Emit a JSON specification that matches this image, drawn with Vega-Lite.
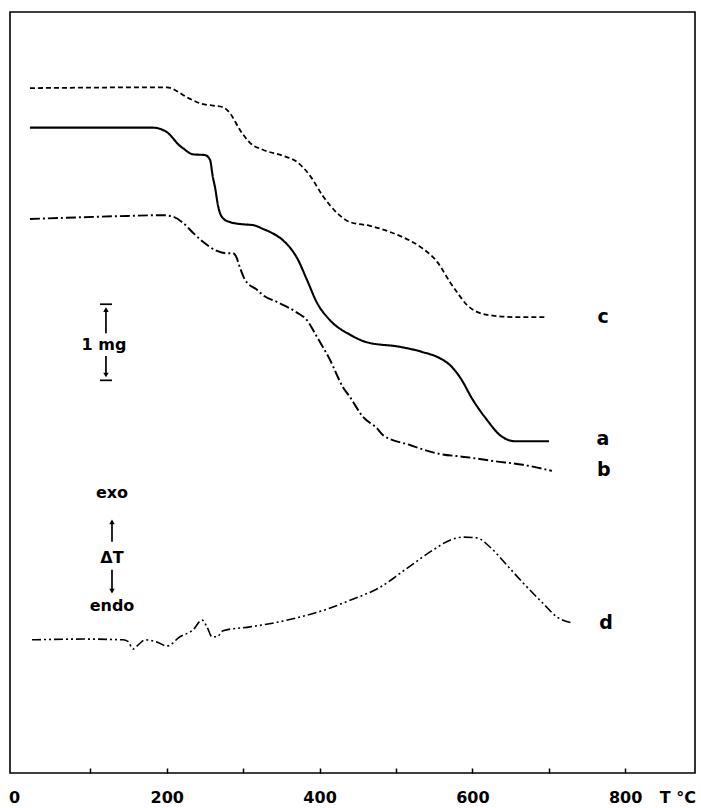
{
  "$schema": "https://vega.github.io/schema/vega-lite/v6.json",
  "width": 685,
  "height": 761,
  "autosize": {"type": "none"},
  "padding": {"left": 10, "top": 12, "right": 6, "bottom": 35},
  "background": "white",
  "config": {
    "view": {"stroke": "#000", "strokeWidth": 1.6},
    "font": "DejaVu Sans"
  },
  "datasets": {
    "curves": [
      {"series": "c", "T": 20.9, "y": 9.00},
      {"series": "c", "T": 191.1, "y": 9.01},
      {"series": "c", "T": 200.3, "y": 9.01},
      {"series": "c", "T": 208.1, "y": 8.99},
      {"series": "c", "T": 213.4, "y": 8.96},
      {"series": "c", "T": 226.4, "y": 8.88},
      {"series": "c", "T": 234.3, "y": 8.84},
      {"series": "c", "T": 243.5, "y": 8.80},
      {"series": "c", "T": 260.5, "y": 8.77},
      {"series": "c", "T": 273.6, "y": 8.75},
      {"series": "c", "T": 282.7, "y": 8.67},
      {"series": "c", "T": 295.8, "y": 8.45},
      {"series": "c", "T": 308.9, "y": 8.28},
      {"series": "c", "T": 325.9, "y": 8.19},
      {"series": "c", "T": 352.1, "y": 8.11},
      {"series": "c", "T": 370.4, "y": 8.03},
      {"series": "c", "T": 387.4, "y": 7.85},
      {"series": "c", "T": 404.5, "y": 7.58},
      {"series": "c", "T": 422.8, "y": 7.36},
      {"series": "c", "T": 439.8, "y": 7.24},
      {"series": "c", "T": 466.0, "y": 7.19},
      {"series": "c", "T": 492.1, "y": 7.11},
      {"series": "c", "T": 509.2, "y": 7.04},
      {"series": "c", "T": 535.3, "y": 6.89},
      {"series": "c", "T": 553.7, "y": 6.72},
      {"series": "c", "T": 570.7, "y": 6.45},
      {"series": "c", "T": 579.8, "y": 6.32},
      {"series": "c", "T": 592.9, "y": 6.15},
      {"series": "c", "T": 606.0, "y": 6.06},
      {"series": "c", "T": 627.0, "y": 6.01},
      {"series": "c", "T": 658.4, "y": 5.99},
      {"series": "c", "T": 697.6, "y": 5.99},

      {"series": "a", "T": 20.9, "y": 8.48},
      {"series": "a", "T": 181.9, "y": 8.48},
      {"series": "a", "T": 195.0, "y": 8.45},
      {"series": "a", "T": 200.3, "y": 8.42},
      {"series": "a", "T": 217.3, "y": 8.24},
      {"series": "a", "T": 221.2, "y": 8.21},
      {"series": "a", "T": 234.3, "y": 8.13},
      {"series": "a", "T": 250.0, "y": 8.12},
      {"series": "a", "T": 256.5, "y": 8.06},
      {"series": "a", "T": 260.5, "y": 7.82},
      {"series": "a", "T": 263.1, "y": 7.70},
      {"series": "a", "T": 267.0, "y": 7.46},
      {"series": "a", "T": 269.6, "y": 7.36},
      {"series": "a", "T": 273.6, "y": 7.29},
      {"series": "a", "T": 282.7, "y": 7.24},
      {"series": "a", "T": 299.7, "y": 7.21},
      {"series": "a", "T": 312.8, "y": 7.20},
      {"series": "a", "T": 325.9, "y": 7.15},
      {"series": "a", "T": 335.1, "y": 7.11},
      {"series": "a", "T": 352.1, "y": 7.00},
      {"series": "a", "T": 363.9, "y": 6.87},
      {"series": "a", "T": 370.4, "y": 6.77},
      {"series": "a", "T": 383.5, "y": 6.48},
      {"series": "a", "T": 396.6, "y": 6.18},
      {"series": "a", "T": 413.6, "y": 5.95},
      {"series": "a", "T": 439.8, "y": 5.76},
      {"series": "a", "T": 462.0, "y": 5.66},
      {"series": "a", "T": 505.2, "y": 5.60},
      {"series": "a", "T": 535.3, "y": 5.53},
      {"series": "a", "T": 557.6, "y": 5.45},
      {"series": "a", "T": 570.7, "y": 5.36},
      {"series": "a", "T": 583.8, "y": 5.20},
      {"series": "a", "T": 600.8, "y": 4.90},
      {"series": "a", "T": 619.1, "y": 4.64},
      {"series": "a", "T": 636.1, "y": 4.44},
      {"series": "a", "T": 655.8, "y": 4.36},
      {"series": "a", "T": 700.3, "y": 4.36},

      {"series": "b", "T": 20.9, "y": 7.28},
      {"series": "b", "T": 147.9, "y": 7.32},
      {"series": "b", "T": 195.0, "y": 7.33},
      {"series": "b", "T": 208.1, "y": 7.31},
      {"series": "b", "T": 221.2, "y": 7.23},
      {"series": "b", "T": 234.3, "y": 7.10},
      {"series": "b", "T": 247.4, "y": 6.98},
      {"series": "b", "T": 265.7, "y": 6.86},
      {"series": "b", "T": 277.5, "y": 6.83},
      {"series": "b", "T": 286.6, "y": 6.83},
      {"series": "b", "T": 290.6, "y": 6.79},
      {"series": "b", "T": 295.8, "y": 6.64},
      {"series": "b", "T": 302.4, "y": 6.48},
      {"series": "b", "T": 318.0, "y": 6.35},
      {"series": "b", "T": 325.9, "y": 6.28},
      {"series": "b", "T": 344.2, "y": 6.19},
      {"series": "b", "T": 370.4, "y": 6.05},
      {"series": "b", "T": 383.5, "y": 5.95},
      {"series": "b", "T": 396.6, "y": 5.73},
      {"series": "b", "T": 413.6, "y": 5.43},
      {"series": "b", "T": 430.6, "y": 5.07},
      {"series": "b", "T": 439.8, "y": 4.94},
      {"series": "b", "T": 456.8, "y": 4.68},
      {"series": "b", "T": 475.1, "y": 4.53},
      {"series": "b", "T": 483.0, "y": 4.44},
      {"series": "b", "T": 518.3, "y": 4.31},
      {"series": "b", "T": 553.7, "y": 4.20},
      {"series": "b", "T": 592.9, "y": 4.15},
      {"series": "b", "T": 627.0, "y": 4.10},
      {"series": "b", "T": 666.2, "y": 4.05},
      {"series": "b", "T": 704.2, "y": 3.97},

      {"series": "d", "T": 23.6, "y": 1.75},
      {"series": "d", "T": 90.3, "y": 1.76},
      {"series": "d", "T": 142.7, "y": 1.75},
      {"series": "d", "T": 149.2, "y": 1.73},
      {"series": "d", "T": 155.8, "y": 1.63},
      {"series": "d", "T": 162.3, "y": 1.68},
      {"series": "d", "T": 171.5, "y": 1.75},
      {"series": "d", "T": 187.2, "y": 1.72},
      {"series": "d", "T": 200.3, "y": 1.67},
      {"series": "d", "T": 217.3, "y": 1.79},
      {"series": "d", "T": 234.3, "y": 1.88},
      {"series": "d", "T": 246.1, "y": 2.01},
      {"series": "d", "T": 252.6, "y": 1.92},
      {"series": "d", "T": 259.2, "y": 1.79},
      {"series": "d", "T": 265.7, "y": 1.79},
      {"series": "d", "T": 273.6, "y": 1.87},
      {"series": "d", "T": 308.9, "y": 1.92},
      {"series": "d", "T": 344.2, "y": 1.98},
      {"series": "d", "T": 374.3, "y": 2.05},
      {"series": "d", "T": 417.5, "y": 2.18},
      {"series": "d", "T": 439.8, "y": 2.27},
      {"series": "d", "T": 479.1, "y": 2.44},
      {"series": "d", "T": 514.4, "y": 2.69},
      {"series": "d", "T": 548.4, "y": 2.93},
      {"series": "d", "T": 570.7, "y": 3.06},
      {"series": "d", "T": 587.7, "y": 3.10},
      {"series": "d", "T": 606.0, "y": 3.09},
      {"series": "d", "T": 623.0, "y": 2.97},
      {"series": "d", "T": 645.3, "y": 2.73},
      {"series": "d", "T": 666.2, "y": 2.50},
      {"series": "d", "T": 692.4, "y": 2.23},
      {"series": "d", "T": 710.7, "y": 2.05},
      {"series": "d", "T": 731.7, "y": 1.97}
    ],
    "labels": [
      {"T": 771, "y": 5.99, "text": "c", "kind": "curve"},
      {"T": 771, "y": 4.39, "text": "a", "kind": "curve"},
      {"T": 772, "y": 3.98, "text": "b", "kind": "curve"},
      {"T": 775, "y": 1.97, "text": "d", "kind": "curve"},
      {"T": 117.8, "y": 5.62, "text": "1 mg", "kind": "note"},
      {"T": 128.3, "y": 3.68, "text": "exo", "kind": "note"},
      {"T": 128.3, "y": 2.83, "text": "ΔT", "kind": "note"},
      {"T": 128.3, "y": 2.19, "text": "endo", "kind": "note"},
      {"T": 869, "y": -0.33, "text": "T °C", "kind": "note"}
    ],
    "rules": [
      {"T": 112.6, "T2": 128.3, "y": 6.16, "y2": 6.16},
      {"T": 112.6, "T2": 128.3, "y": 5.16, "y2": 5.16},
      {"T": 120.4, "T2": 120.4, "y": 6.10, "y2": 5.78},
      {"T": 120.4, "T2": 120.4, "y": 5.48, "y2": 5.22},
      {"T": 128.3, "T2": 128.3, "y": 3.31, "y2": 3.04},
      {"T": 128.3, "T2": 128.3, "y": 2.67, "y2": 2.38}
    ],
    "heads": [
      {"T": 120.4, "y": 6.09, "dir": "up"},
      {"T": 120.4, "y": 5.23, "dir": "down"},
      {"T": 128.3, "y": 3.30, "dir": "up"},
      {"T": 128.3, "y": 2.39, "dir": "down"}
    ]
  },
  "layer": [
    {
      "data": {"name": "curves"},
      "mark": {"type": "line", "interpolate": "monotone", "color": "#000"},
      "encoding": {
        "x": {
          "field": "T", "type": "quantitative",
          "scale": {"domain": [-5.2, 891.4], "nice": false, "zero": false},
          "axis": {
            "values": [0, 100, 200, 300, 400, 500, 600, 700, 800],
            "labelExpr": "datum.value % 200 === 0 ? datum.label : ''",
            "domain": false, "grid": false, "title": null,
            "tickSize": -5, "tickColor": "#000", "tickWidth": 1.5,
            "tickOpacity": {"condition": {"test": "datum.value === 0", "value": 0}, "value": 1},
            "labelFont": "DejaVu Sans", "labelFontSize": 16, "labelFontWeight": "bold",
            "labelColor": "#000", "labelPadding": 21, "labelFlush": false, "labelOverlap": false
          }
        },
        "y": {
          "field": "y", "type": "quantitative",
          "scale": {"domain": [0, 10], "nice": false, "zero": false},
          "axis": null
        },
        "detail": {"field": "series"},
        "strokeDash": {
          "field": "series", "type": "nominal",
          "scale": {"domain": ["a", "b", "c", "d"], "range": [[1, 0], [10, 3, 2, 3], [5, 3], [9, 3, 2, 3, 2, 3]]},
          "legend": null
        },
        "strokeWidth": {
          "field": "series", "type": "nominal",
          "scale": {"domain": ["a", "b", "c", "d"], "range": [2.1, 1.6, 1.5, 1.8]},
          "legend": null
        }
      }
    },
    {
      "data": {"name": "rules"},
      "mark": {"type": "rule", "color": "#000", "strokeWidth": 1.7},
      "encoding": {
        "x": {"field": "T", "type": "quantitative"},
        "x2": {"field": "T2"},
        "y": {"field": "y", "type": "quantitative"},
        "y2": {"field": "y2"}
      }
    },
    {
      "data": {"name": "heads"},
      "mark": {"type": "point", "filled": true, "color": "#000", "size": 30, "opacity": 1},
      "encoding": {
        "x": {"field": "T", "type": "quantitative"},
        "y": {"field": "y", "type": "quantitative"},
        "shape": {
          "field": "dir", "type": "nominal",
          "scale": {"domain": ["up", "down"], "range": ["triangle-up", "triangle-down"]},
          "legend": null
        }
      }
    },
    {
      "data": {"name": "labels"},
      "mark": {"type": "text", "color": "#000", "font": "DejaVu Sans", "fontWeight": "bold", "align": "center", "baseline": "middle", "clip": false},
      "encoding": {
        "x": {"field": "T", "type": "quantitative"},
        "y": {"field": "y", "type": "quantitative"},
        "text": {"field": "text"},
        "size": {
          "field": "kind", "type": "nominal",
          "scale": {"domain": ["curve", "note"], "range": [19, 16]},
          "legend": null
        }
      }
    }
  ]
}
